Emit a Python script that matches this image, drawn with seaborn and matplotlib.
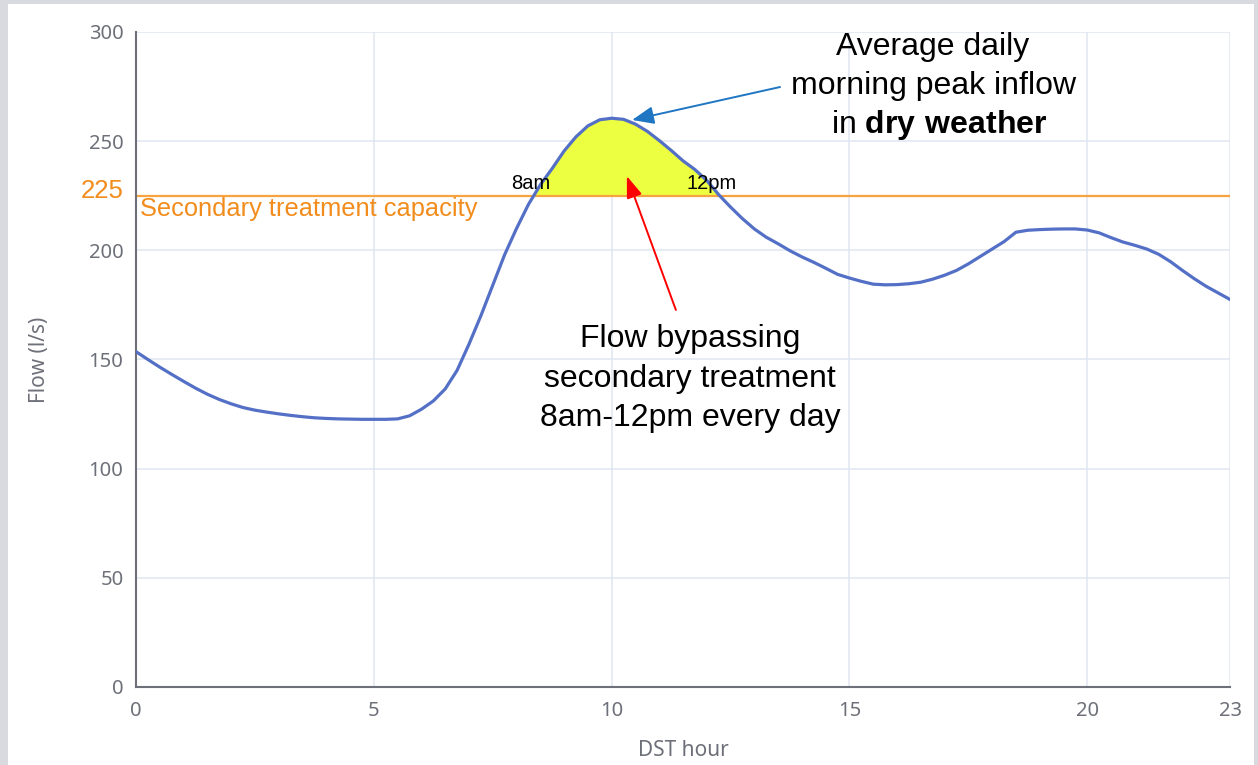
import matplotlib
matplotlib.use("Agg")
import matplotlib.pyplot as plt
import numpy as np
import pandas as pd
import seaborn as sns
from matplotlib.patches import Rectangle

# Average dry-weather inflow (l/s), read every quarter hour over the day
hours = [0, 0.25, 0.5, 0.75, 1, 1.25, 1.5, 1.75, 2, 2.25, 2.5, 2.75,
         3, 3.25, 3.5, 3.75, 4, 4.25, 4.5, 4.75, 5, 5.25, 5.5, 5.75,
         6, 6.25, 6.5, 6.75, 7, 7.25, 7.5, 7.75, 8, 8.25, 8.5, 8.75,
         9, 9.25, 9.5, 9.75, 10, 10.25, 10.5, 10.75, 11, 11.25, 11.5, 11.75,
         12, 12.25, 12.5, 12.75, 13, 13.25, 13.5, 13.75, 14, 14.25, 14.5, 14.75,
         15, 15.25, 15.5, 15.75, 16, 16.25, 16.5, 16.75, 17, 17.25, 17.5, 17.75,
         18, 18.25, 18.5, 18.75, 19, 19.25, 19.5, 19.75, 20, 20.25, 20.5, 20.75,
         21, 21.25, 21.5, 21.75, 22, 22.25, 22.5, 22.75, 23]
flow = [153.6, 150.0, 146.5, 143.2, 140.0, 136.9, 134.1, 131.7, 129.7, 128.0, 126.8, 125.9,
        125.1, 124.4, 123.8, 123.3, 123.0, 122.8, 122.7, 122.6, 122.6, 122.6, 122.8, 124.2,
        127.2, 131.0, 136.5, 145.0, 157.0, 170.0, 184.0, 198.0, 210.0, 221.0, 230.0, 237.5,
        245.5, 252.0, 257.0, 259.8, 260.5, 260.0, 257.8, 254.5, 250.3, 245.8, 241.0, 237.0,
        232.0, 225.5, 219.8, 214.5, 209.8, 206.0, 203.0, 199.8, 197.0, 194.5, 191.8, 189.0,
        187.3, 185.8, 184.5, 184.2, 184.3, 184.7, 185.4, 186.8, 188.6, 190.8, 193.8, 197.2,
        200.6, 204.0, 208.3, 209.2, 209.5, 209.7, 209.8, 209.8, 209.3, 208.0, 205.8, 203.8,
        202.3, 200.6, 198.2, 194.8, 190.8, 187.0, 183.5, 180.5, 177.5]

capacity = 225
y_ticks = [0, 50, 100, 150, 200, 250, 300]
x_ticks = [0, 5, 10, 15, 20, 23]

df = pd.DataFrame({"DST hour": hours, "Flow (l/s)": flow})

sns.set_theme(style="white")
plt.rcParams["font.family"] = ["Liberation Sans", "DejaVu Sans"]
plt.rcParams["mathtext.fontset"] = "custom"
plt.rcParams["mathtext.rm"] = "Liberation Sans"
plt.rcParams["mathtext.bf"] = "Liberation Sans:bold"

AXIS_GREY = "#6E7079"
GRID = "#E0E6F1"
ORANGE_LINE = "#F7A33F"
ORANGE_TEXT = "#F28C1C"

fig = plt.figure(figsize=(12.58, 7.65), dpi=100, facecolor="#D9DADF")
# white card behind the chart
fig.patches.append(Rectangle((8 / 1258, 0), 1246 / 1258, 761 / 765,
                             transform=fig.transFigure, facecolor="white",
                             edgecolor="none", zorder=-10))
ax = fig.add_axes([136 / 1258, 1 - 687 / 765, 1094 / 1258, 655 / 765])
ax.set_facecolor("none")

# grid
for yv in y_ticks[1:]:
    ax.axhline(yv, color=GRID, lw=1.1, zorder=0)
for xv in x_ticks[1:]:
    ax.axvline(xv, color=GRID, lw=1.1, zorder=0)

# capacity line and the flow above it
ax.axhline(capacity, color=ORANGE_LINE, lw=1.6, zorder=2)
ax.fill_between(hours, flow, capacity,
                where=np.array(flow) > capacity, interpolate=True,
                color="#ECFF40", lw=0, zorder=1)

sns.lineplot(data=df, x="DST hour", y="Flow (l/s)", ax=ax,
             color="#5470C6", lw=2.3, zorder=3,
             solid_joinstyle="round", solid_capstyle="round")

ax.set_xlim(0, 23)
ax.set_ylim(0, 300)
ax.set_xticks(x_ticks)
ax.set_yticks(y_ticks)
ax.tick_params(axis="both", colors=AXIS_GREY, labelcolor=AXIS_GREY,
               length=5, width=1.2, labelsize=14.5, direction="out")
ax.tick_params(axis="y", pad=4)
ax.tick_params(axis="x", pad=5)
for lbl in ax.get_xticklabels() + ax.get_yticklabels():
    lbl.set_fontfamily(["Noto Sans", "DejaVu Sans"])

for side in ["top", "right"]:
    ax.spines[side].set_visible(False)
for side in ["left", "bottom"]:
    ax.spines[side].set_color(AXIS_GREY)
    ax.spines[side].set_linewidth(1.5)

ax.set_xlabel("DST hour", color=AXIS_GREY, fontsize=15,
              family=["Noto Sans", "DejaVu Sans"], labelpad=14)
ax.set_ylabel("Flow (l/s)", color=AXIS_GREY, fontsize=15,
              family=["Noto Sans", "DejaVu Sans"], labelpad=28)

# capacity labels
ax.text(-0.27, 227.3, "225", color=ORANGE_TEXT, fontsize=18.5,
        ha="right", va="center", clip_on=False)
ax.text(0.08, 219, "Secondary treatment capacity", color=ORANGE_TEXT,
        fontsize=18.3, ha="left", va="center")

ax.text(8.30, 230.4, "8am", fontsize=14.5, ha="center", va="center",
        color="black", zorder=4)
ax.text(12.11, 230.4, "12pm", fontsize=14.5, ha="center", va="center",
        color="black", zorder=4)

# peak annotation
ax.text(16.75, 293.2, "Average daily", fontsize=23, ha="center",
        va="center", color="black")
ax.text(16.77, 275.3, "morning peak inflow", fontsize=23, ha="center",
        va="center", color="black")
ax.text(16.88, 257.5, r"in $\bf{dry\ weather}$", fontsize=23,
        ha="center", va="center", color="black")
ax.annotate("", xy=(10.43, 259.7), xytext=(13.54, 274.8),
            arrowprops=dict(arrowstyle="-|>,head_length=1.1,head_width=0.45",
                            color="#1F77C4", lw=1.4, shrinkA=0, shrinkB=0),
            zorder=5)

# bypass annotation
ax.text(11.65, 159.4, "Flow bypassing", fontsize=23, ha="center",
        va="center", color="black")
ax.text(11.65, 141.1, "secondary treatment", fontsize=23, ha="center",
        va="center", color="black")
ax.text(11.65, 123.2, "8am-12pm every day", fontsize=23, ha="center",
        va="center", color="black")
ax.annotate("", xy=(10.32, 234), xytext=(11.35, 172.7),
            arrowprops=dict(arrowstyle="-|>,head_length=1.1,head_width=0.4",
                            color="#FF0000", lw=1.4, shrinkA=0, shrinkB=0),
            zorder=5)

fig.savefig("out.png", dpi=100, facecolor=fig.get_facecolor())
